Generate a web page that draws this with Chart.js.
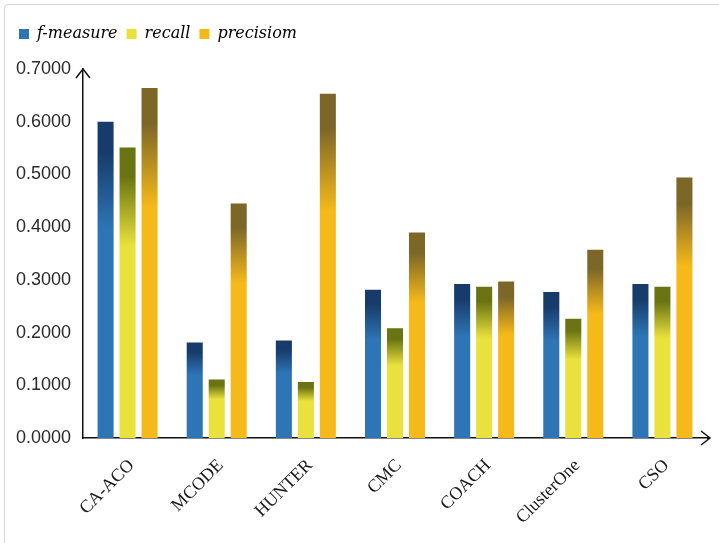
<!DOCTYPE html>
<html>
<head>
<meta charset="utf-8">
<script src="https://cdn.jsdelivr.net/npm/chart.js@4/dist/chart.umd.min.js"></script>
<style>
    html, body { margin: 0; padding: 0; background: #fff; }
    #wrap { position: relative; width: 719px; height: 543px; }
    #frame {
        position: absolute; left: 4px; top: 4px; width: 720px; height: 545px;
        border: 1px solid #d4d4d4; border-radius: 4px; pointer-events: none;
    }
</style>
</head>
<body>
<div id="wrap">
    <canvas id="chart" width="719" height="543"></canvas>
    <div id="frame"></div>
</div>
<script>
// data
const categories = ['CA-ACO', 'MCODE', 'HUNTER', 'CMC', 'COACH', 'ClusterOne', 'CSO'];
const fMeasure = [0.600, 0.181, 0.185, 0.281, 0.292, 0.277, 0.292];
const recall = [0.551, 0.111, 0.106, 0.208, 0.287, 0.226, 0.287];
const precisiom = [0.664, 0.445, 0.653, 0.390, 0.297, 0.357, 0.494];
const yTicks = [0, 0.1, 0.2, 0.3, 0.4, 0.5, 0.6, 0.7];

// dark top fading into the base colour
function barGradient(dark, base) {
    return function (ctx) {
        const chart = ctx.chart;
        if (ctx.type !== 'data' || !chart.chartArea) return base;
        const y = chart.scales.y;
        const top = y.getPixelForValue(ctx.raw);
        const bottom = y.getPixelForValue(0);
        if (!isFinite(top) || bottom - top < 1) return base;
        const g = chart.ctx.createLinearGradient(0, top, 0, bottom);
        g.addColorStop(0, dark);
        g.addColorStop(0.1, dark);
        g.addColorStop(0.34, base);
        g.addColorStop(1, base);
        return g;
    };
}

// extra room under the legend
const legendGap = {
    id: 'legendGap',
    beforeLayout(chart) {
        const lg = chart.legend;
        if (lg && !lg._gapPatched) {
            const fit = lg.fit;
            lg.fit = function () {
                fit.call(this);
                this.height += 17;
            };
            lg._gapPatched = true;
        }
    }
};

// arrow heads on the two axes
const axisArrows = {
    id: 'axisArrows',
    afterDraw(chart) {
        const { ctx, chartArea } = chart;
        ctx.save();
        ctx.strokeStyle = '#111';
        ctx.lineWidth = 1.5;
        ctx.beginPath();
        // y axis
        ctx.moveTo(chartArea.left - 7, chartArea.top + 9);
        ctx.lineTo(chartArea.left, chartArea.top);
        ctx.lineTo(chartArea.left + 7, chartArea.top + 9);
        // x axis
        ctx.moveTo(chartArea.right - 6, chartArea.bottom - 7);
        ctx.lineTo(chartArea.right + 3, chartArea.bottom);
        ctx.lineTo(chartArea.right - 6, chartArea.bottom + 7);
        ctx.moveTo(chartArea.right, chartArea.bottom);
        ctx.lineTo(chartArea.right + 3, chartArea.bottom);
        ctx.stroke();
        ctx.restore();
    }
};

new Chart(document.getElementById('chart'), {
    type: 'bar',
    data: {
        labels: categories,
        datasets: [
            { label: 'f-measure', data: fMeasure, backgroundColor: barGradient('#173c6b', '#2e75b6') },
            { label: 'recall', data: recall, backgroundColor: barGradient('#6b7412', '#e9e23c') },
            { label: 'precisiom', data: precisiom, backgroundColor: barGradient('#7c6628', '#f6b91a') }
        ]
    },
    options: {
        responsive: false,
        animation: false,
        layout: { padding: { left: 10, right: 12, top: 17, bottom: 0 } },
        datasets: {
            bar: { categoryPercentage: 0.74, barPercentage: 0.73, borderWidth: 0 }
        },
        plugins: {
            tooltip: { enabled: false },
            legend: {
                position: 'top',
                align: 'start',
                labels: {
                    boxWidth: 10,
                    boxHeight: 10,
                    padding: 9,
                    color: '#111',
                    font: { family: 'DejaVu Serif', size: 16, style: 'italic' },
                    generateLabels(chart) {
                        const solid = ['#2e75b6', '#e9e23c', '#f6b91a'];
                        return chart.data.datasets.map((ds, i) => ({
                            text: ds.label,
                            fillStyle: solid[i],
                            strokeStyle: solid[i],
                            lineWidth: 0,
                            datasetIndex: i
                        }));
                    }
                }
            }
        },
        scales: {
            x: {
                grid: { display: false },
                border: { color: '#111', width: 1.5 },
                ticks: {
                    color: '#1a1a1a',
                    minRotation: 45,
                    maxRotation: 45,
                    padding: 9,
                    labelOffset: 4,
                    font: { family: 'Liberation Serif', size: 18 }
                },
                afterFit(scale) { scale.height = 105; }
            },
            y: {
                min: 0,
                max: 0.7,
                grid: { display: false },
                border: { color: '#111', width: 1.5 },
                afterBuildTicks(scale) { scale.ticks = yTicks.map(v => ({ value: v })); },
                ticks: {
                    color: '#2a2a2a',
                    padding: 4,
                    font: { family: 'Liberation Sans', size: 18 },
                    callback: value => value.toFixed(4)
                },
                afterFit(scale) { scale.width = 73; }
            }
        }
    },
    plugins: [legendGap, axisArrows]
});
</script>
</body>
</html>
